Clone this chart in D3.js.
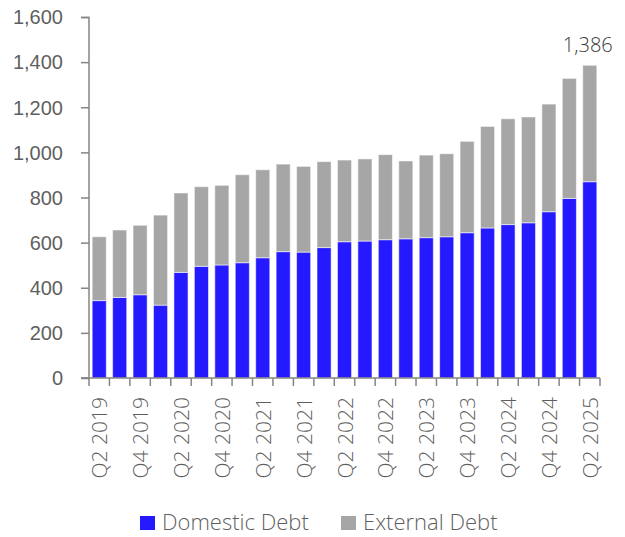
<!DOCTYPE html>
<html>
<head>
<meta charset="utf-8">
<script src="https://cdn.jsdelivr.net/npm/d3@7"></script>
<style>
  html, body { margin: 0; padding: 0; background: #fff; }
  svg { display: block; font-family: "Open Sans", "Noto Sans", sans-serif; font-weight: 300; }
</style>
</head>
<body>
<svg id="chart" width="625" height="537"></svg>
<script>
// Quarterly debt stock, domestic vs external
const quarters = [
  "Q2 2019", "Q3 2019", "Q4 2019", "Q1 2020", "Q2 2020", "Q3 2020", "Q4 2020",
  "Q1 2021", "Q2 2021", "Q3 2021", "Q4 2021", "Q1 2022", "Q2 2022", "Q3 2022",
  "Q4 2022", "Q1 2023", "Q2 2023", "Q3 2023", "Q4 2023", "Q1 2024", "Q2 2024",
  "Q3 2024", "Q4 2024", "Q1 2025", "Q2 2025"
];
const domesticDebt = [343, 357, 369, 323, 468, 495, 501, 511, 533, 560, 558, 578, 604,
                      607, 613, 617, 622, 626, 644, 665, 680, 688, 737, 796, 870];
const externalDebt = [283, 299, 308, 399, 352, 353, 353, 390, 390, 388, 380, 381, 362,
                      364, 377, 345, 366, 368, 405, 450, 469, 469, 477, 532, 516];
const yTicks = [0, 200, 400, 600, 800, 1000, 1200, 1400, 1600];
const seriesNames = ["Domestic Debt", "External Debt"];
const seriesColors = ["#2419ff", "#a6a6a6"];

const margin = { top: 17, right: 25, bottom: 159, left: 89 };
const W = 625, H = 537;
const iw = W - margin.left - margin.right;
const ih = H - margin.top - margin.bottom;
const textColor = "#5f5f5f";
const axisColor = "#858585";

const svg = d3.select("#chart");
const g = svg.append("g").attr("transform", `translate(${margin.left},${margin.top})`);

const rows = quarters.map((q, i) => ({ q, domestic: domesticDebt[i], external: externalDebt[i] }));
const stack = d3.stack().keys(["domestic", "external"])(rows);

const x = d3.scaleBand().domain(quarters).range([0, iw]).paddingInner(0.31).paddingOuter(0.155);
const y = d3.scaleLinear().domain([0, 1600]).range([ih, 0]);

// stacked bars
g.selectAll("g.series")
  .data(stack)
  .join("g")
  .attr("class", "series")
  .attr("fill", (d, i) => seriesColors[i])
  .selectAll("rect")
  .data(d => d)
  .join("rect")
  .attr("x", d => x(d.data.q))
  .attr("width", x.bandwidth())
  .attr("y", d => y(d[1]))
  .attr("height", d => y(d[0]) - y(d[1]))
  .attr("stroke", "rgba(255,255,255,0.55)")
  .attr("stroke-width", 1);

// y axis
const yAxis = g.append("g")
  .call(d3.axisLeft(y).tickValues(yTicks).tickSize(8).tickPadding(18).tickFormat(d3.format(",")));
yAxis.select(".domain").attr("stroke", axisColor).attr("stroke-width", 1.5).attr("d", `M-8,0.5H0V${ih}H-8`);
yAxis.selectAll(".tick line").attr("stroke", axisColor).attr("stroke-width", 1.5);
yAxis.selectAll(".tick text").attr("fill", textColor).attr("font-size", 20).attr("dy", "0.34em");

// x axis: baseline with ticks at category boundaries
const xAxis = g.append("g").attr("transform", `translate(0,${ih})`);
xAxis.append("line").attr("x1", -8).attr("x2", iw).attr("stroke", axisColor).attr("stroke-width", 1.5);
const step = x.step();
const bounds = d3.range(quarters.length + 1).map(i => x(quarters[0]) - step * 0.155 + i * step);
xAxis.selectAll("line.bound")
  .data(bounds)
  .join("line")
  .attr("class", "bound")
  .attr("x1", d => d).attr("x2", d => d)
  .attr("y1", 0).attr("y2", 8)
  .attr("stroke", axisColor).attr("stroke-width", 1.5);

// every second quarter labelled, rotated
xAxis.selectAll("text.qlabel")
  .data(quarters.filter((q, i) => i % 2 === 0))
  .join("text")
  .attr("class", "qlabel")
  .attr("transform", d => `translate(${x(d) + x.bandwidth() / 2 + 8},19) rotate(-90)`)
  .attr("text-anchor", "end")
  .attr("fill", textColor)
  .attr("font-size", 21)
  .text(d => d);

// total label on the latest bar
const last = rows[rows.length - 1];
const lastTotal = last.domestic + last.external;
g.append("text")
  .attr("x", x(last.q) + x.bandwidth() / 2 - 2)
  .attr("y", y(lastTotal) - 13)
  .attr("text-anchor", "middle")
  .attr("fill", "#3a3a3a")
  .attr("font-size", 20)
  .text(d3.format(",")(lastTotal));

// legend
const legend = svg.append("g").attr("transform", "translate(140,516)");
const items = [{ x: 0 }, { x: 201 }];
seriesNames.forEach((name, i) => {
  const it = legend.append("g").attr("transform", `translate(${items[i].x},0)`);
  it.append("rect").attr("width", 15).attr("height", 14).attr("fill", seriesColors[i]);
  it.append("text").attr("x", 22).attr("y", 14).attr("fill", textColor).attr("font-size", 22).text(name);
});
</script>
</body>
</html>
